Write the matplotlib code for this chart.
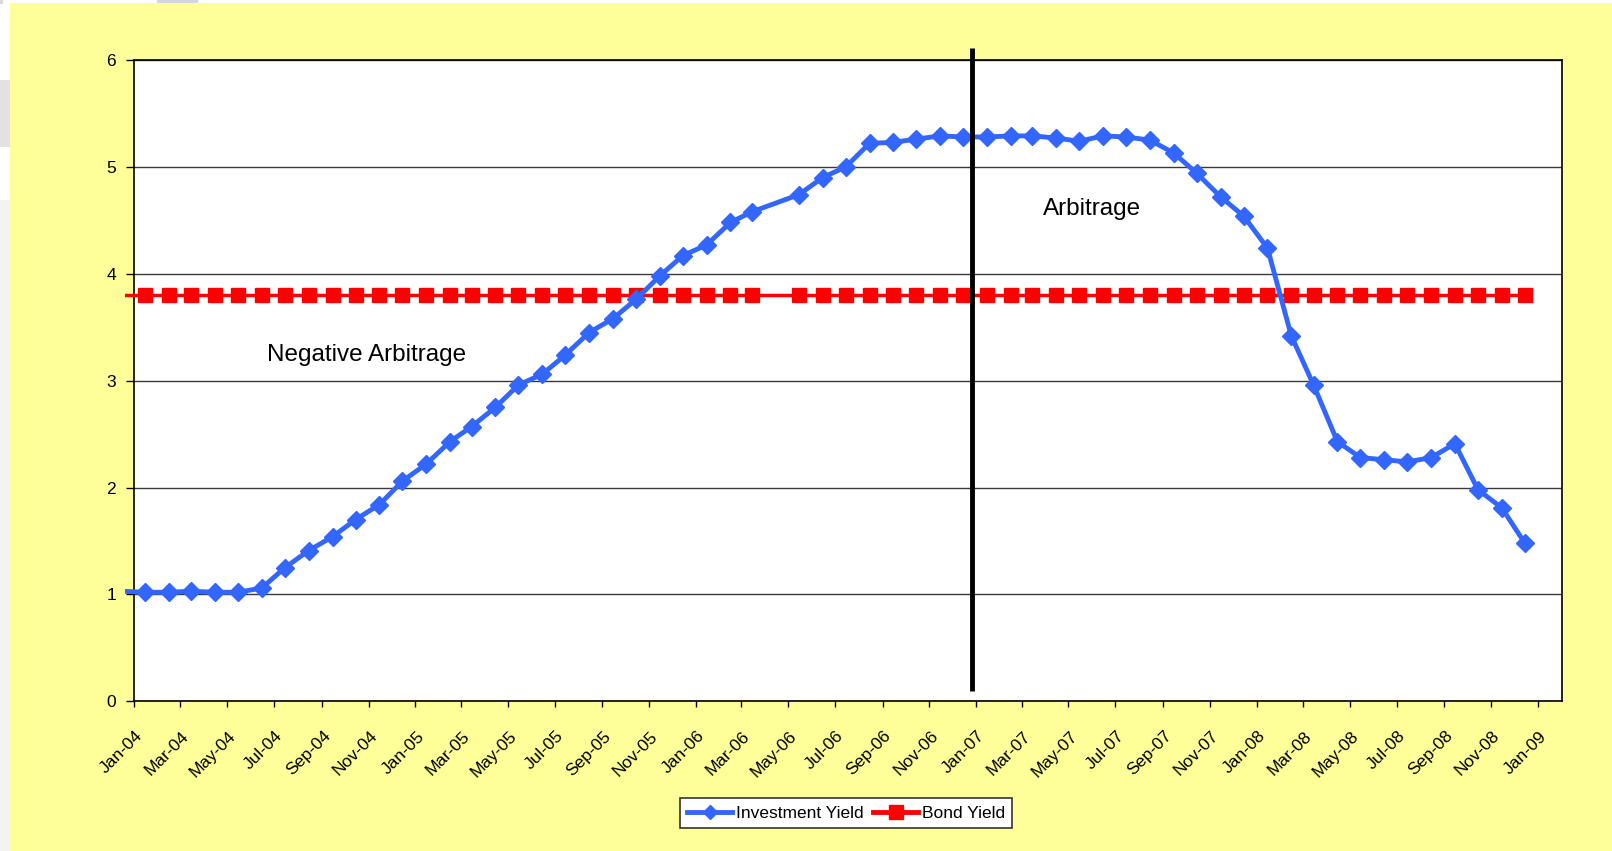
import matplotlib
matplotlib.use("Agg")
import matplotlib.pyplot as plt
import matplotlib.dates as mdates
from matplotlib.transforms import Bbox, TransformedBbox, ScaledTranslation
from matplotlib.patches import Rectangle
import numpy as np
import pandas as pd

plt.rcParams['font.family'] = ['Liberation Sans', 'DejaVu Sans']

# ---- data (mid-month observations; April 2006 absent in source) ----
months = pd.date_range("2003-12-01", "2008-12-01", freq="MS") + pd.Timedelta(days=14)
months = months[months.strftime("%Y-%m") != "2006-04"]

investment_yield = [
    1.03,                                                             # Dec-03
    1.02, 1.02, 1.03, 1.02, 1.02, 1.06, 1.25, 1.41, 1.54, 1.70, 1.84, 2.06,   # 2004
    2.22, 2.43, 2.57, 2.75, 2.96, 3.06, 3.24, 3.45, 3.58, 3.76, 3.98, 4.17,   # 2005
    4.27, 4.48, 4.58, 4.74, 4.90, 5.00, 5.22, 5.23, 5.26, 5.29, 5.28,         # 2006 (no Apr)
    5.28, 5.29, 5.29, 5.27, 5.24, 5.29, 5.28, 5.25, 5.13, 4.94, 4.72, 4.54,   # 2007
    4.24, 3.42, 2.96, 2.43, 2.28, 2.26, 2.24, 2.28, 2.41, 1.98, 1.81, 1.48,   # 2008
]
bond_yield = [3.8] * len(investment_yield)

series_labels = ["Investment Yield", "Bond Yield"]
divider_date = pd.Timestamp("2006-12-26")
annotations = ["Negative Arbitrage", "Arbitrage"]
y_ticks = [0, 1, 2, 3, 4, 5, 6]

# ---- figure ----
W, H, DPI = 1612, 851, 100
fig = plt.figure(figsize=(W / DPI, H / DPI), dpi=DPI, facecolor="white")

# screenshot surroundings
def px_rect(x0, y0, x1, y1, color, z=0):
    fig.patches.append(Rectangle((x0 / W, 1 - y1 / H), (x1 - x0) / W, (y1 - y0) / H,
                                 transform=fig.transFigure, color=color, zorder=z, lw=0))

px_rect(0, 200, 10, 851, "#F3F3F3")
px_rect(0, 80, 10, 147, "#E2E2E2")
px_rect(0, 0, 3, 4, "#D8D8D8")
px_rect(157, 0, 198, 4, "#D6D6D6")
px_rect(10, 3, W, H, "#FFFF99", z=1)

ax = fig.add_axes([134.3 / W, 1 - 701.3 / H, (1561.7 - 134.3) / W, (701.3 - 60) / H])
ax.set_facecolor("white")
ax.set_zorder(2)

# clip region slightly extended to the left (lines run past the axis as in source)
ext = 9 / (1561.7 - 134.3)
clip = TransformedBbox(Bbox.from_bounds(-ext, 0, 1 + ext, 1), ax.transAxes)

blue = "#3366FF"
red = "#FF0000"
l1, = ax.plot(months, investment_yield, color=blue, lw=3.5, marker="D", ms=9.2,
              mec=blue, mfc=blue, markevery=slice(1, None), label=series_labels[0], zorder=4)
l2, = ax.plot(months, bond_yield, color=red, lw=2.5, marker="s", ms=9.8,
              mec=red, mfc=red, markevery=slice(1, None), label=series_labels[1], zorder=3)
for ln in (l1, l2):
    ln.set_clip_box(clip)

ax.set_xlim(pd.Timestamp("2004-01-01"), pd.Timestamp("2009-02-01"))
ax.set_ylim(0, 6)
ax.set_yticks(y_ticks)
ax.yaxis.grid(True, color="#3a3a3a", lw=1.0)
ax.set_axisbelow(True)

ax.xaxis.set_major_locator(mdates.MonthLocator(bymonth=[1, 3, 5, 7, 9, 11]))
ax.xaxis.set_major_formatter(mdates.DateFormatter("%b-%y"))
ax.tick_params(axis="x", direction="out", length=4.5, width=1, color="black",
               labelsize=12.5, pad=15)
ax.tick_params(axis="y", direction="out", length=6, width=1, color="black",
               labelsize=12.5, pad=7)
offset = ScaledTranslation(1.0 / DPI, 0, fig.dpi_scale_trans)
for lab in ax.get_xticklabels():
    lab.set_rotation(45)
    lab.set_ha("right")
    lab.set_va("top")
    lab.set_rotation_mode("anchor")
    lab.set_transform(lab.get_transform() + offset)

for sp in ax.spines.values():
    sp.set_color("black")
    sp.set_linewidth(1.2)

# divider
ax.plot([divider_date, divider_date], [0.093, 6.108], color="black", lw=3.5,
        clip_on=False, zorder=5, solid_capstyle="butt")

ax.text(pd.Timestamp("2004-10-29"), 3.24, annotations[0], fontsize=17.5,
        ha="center", va="center", zorder=6)
ax.text(pd.Timestamp("2007-05-31"), 4.61, annotations[1], fontsize=17.5,
        ha="center", va="center", zorder=6)

leg = fig.legend(handles=[l1, l2], labels=series_labels, loc="center",
                 bbox_to_anchor=(846 / W, 1 - 813 / H), bbox_transform=fig.transFigure,
                 ncol=2, fontsize=12.5, frameon=True, fancybox=False, framealpha=1,
                 edgecolor="#333333", handlelength=2.6, handletextpad=0.2, numpoints=1,
                 columnspacing=0.55, borderpad=0.4, borderaxespad=0)
leg.get_frame().set_linewidth(1.2)
leg.set_zorder(3)
for h in leg.legend_handles:
    h.set_markevery([1])
    h.set_linewidth(3.5)
leg.legend_handles[0].set_markersize(7.0)
leg.legend_handles[1].set_markersize(10.0)

fig.savefig("out.png", dpi=DPI, facecolor=fig.get_facecolor())
